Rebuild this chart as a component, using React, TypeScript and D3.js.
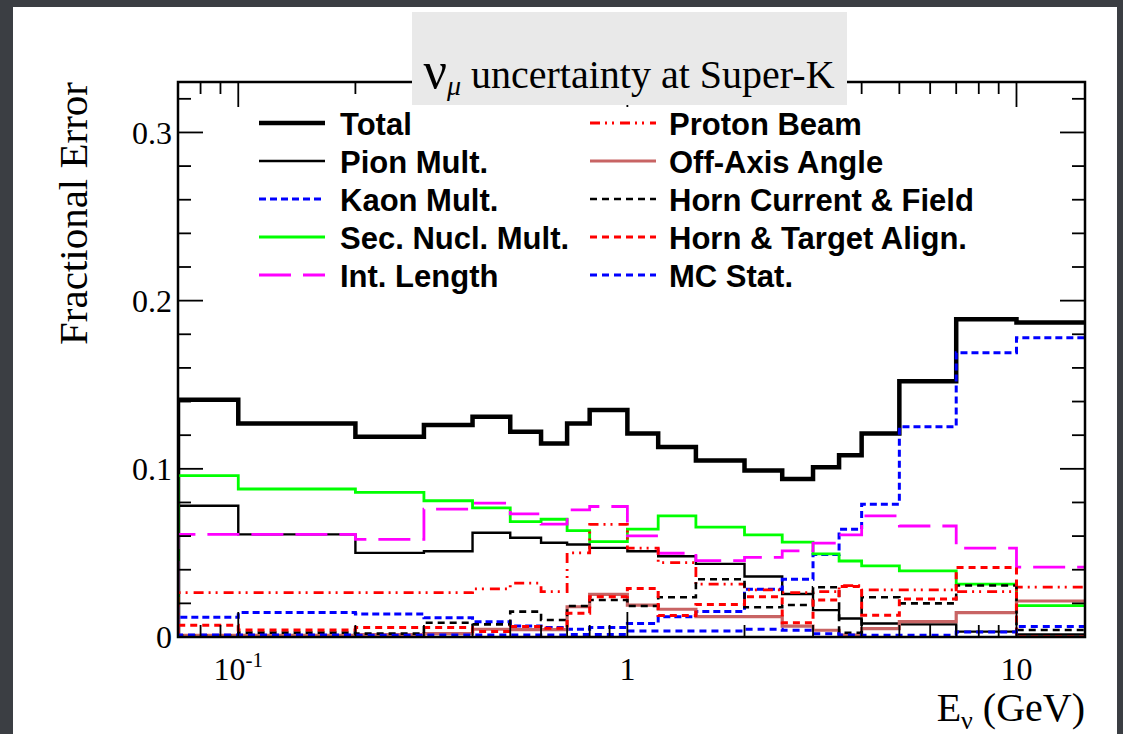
import { useEffect, useRef } from 'react';
import * as d3 from 'd3';

// bin edges in GeV (first and last bins run past the visible axis range)
const binEdges = [0, 0.1, 0.2, 0.3, 0.4, 0.5, 0.6, 0.7, 0.8, 1.0, 1.2, 1.5, 2.0, 2.5, 3.0, 3.5, 4.0, 5.0, 7.0, 10.0, 30.0];

const totalErr = [0.141, 0.127, 0.119, 0.126, 0.131, 0.122, 0.115, 0.127, 0.135, 0.121, 0.113, 0.105, 0.099, 0.094, 0.101, 0.108, 0.121, 0.152, 0.189, 0.187];
const pionMult = [0.078, 0.061, 0.050, 0.051, 0.062, 0.059, 0.056, 0.055, 0.053, 0.051, 0.048, 0.0435, 0.036, 0.0256, 0.016, 0.011, 0.008, 0.0075, 0.0032, 0.0015];
const kaonMult = [0.0117, 0.0145, 0.0137, 0.0115, 0.0091, 0.0065, 0.0056, 0.0046, 0.0056, 0.0081, 0.0121, 0.0151, 0.0284, 0.0343, 0.049, 0.064, 0.079, 0.125, 0.169, 0.178];
const secNuclMult = [0.096, 0.088, 0.086, 0.081, 0.0768, 0.0686, 0.070, 0.0633, 0.0567, 0.0641, 0.072, 0.0653, 0.0607, 0.0564, 0.0494, 0.0452, 0.0423, 0.0393, 0.0314, 0.0187];
const intLength = [0.061, 0.061, 0.058, 0.076, 0.0796, 0.0732, 0.0671, 0.0756, 0.0776, 0.0601, 0.0498, 0.0454, 0.0474, 0.0512, 0.0558, 0.0607, 0.072, 0.066, 0.0528, 0.0415];
const protonBeam = [0.0264, 0.0264, 0.0264, 0.0264, 0.0286, 0.032, 0.027, 0.050, 0.067, 0.0528, 0.0442, 0.0314, 0.028, 0.0264, 0.027, 0.0306, 0.028, 0.028, 0.027, 0.0296];
const offAxisAngle = [0.001, 0.001, 0.0015, 0.002, 0.0046, 0.0044, 0.0044, 0.018, 0.0254, 0.019, 0.0165, 0.0121, 0.0121, 0.0065, 0.004, 0.0012, 0.005, 0.0091, 0.0145, 0.0214];
const hornCurrent = [0.001, 0.0026, 0.002, 0.0085, 0.0075, 0.0151, 0.0101, 0.0184, 0.022, 0.0184, 0.0236, 0.0343, 0.0177, 0.019, 0.0296, 0.0025, 0.0236, 0.020, 0.0306, 0.0042];
const hornTarget = [0.007, 0.0042, 0.0056, 0.0056, 0.0032, 0.0062, 0.0052, 0.0141, 0.024, 0.0288, 0.0128, 0.0193, 0.024, 0.0085, 0.022, 0.030, 0.013, 0.0226, 0.0413, 0.0];
const mcStat = [0.0012, 0.0012, 0.001, 0.0012, 0.0012, 0.0012, 0.0012, 0.0015, 0.0015, 0.0035, 0.0035, 0.0035, 0.0046, 0.004, 0.002, 0.0012, 0.001, 0.001, 0.003, 0.0062];

const yTickLabels = ['0', '0.1', '0.2', '0.3'];
const xTickLabels = [
  { value: 0.1, base: '10', sup: '-1' },
  { value: 1, base: '1', sup: '' },
  { value: 10, base: '10', sup: '' },
];

interface Series {
  name: string;
  values: number[];
  color: string;
  width: number;
  dash: string | null;
}

const series: Series[] = [
  { name: 'Total', values: totalErr, color: '#000000', width: 4.5, dash: null },
  { name: 'Pion Mult.', values: pionMult, color: '#000000', width: 2.4, dash: null },
  { name: 'Kaon Mult.', values: kaonMult, color: '#0000ff', width: 3, dash: '7 4' },
  { name: 'Sec. Nucl. Mult.', values: secNuclMult, color: '#00ff00', width: 2.8, dash: null },
  { name: 'Int. Length', values: intLength, color: '#ff00ff', width: 2.8, dash: '32 12' },
  { name: 'Proton Beam', values: protonBeam, color: '#ff0000', width: 2.8, dash: '10 5 2 5 2 6' },
  { name: 'Off-Axis Angle', values: offAxisAngle, color: '#c86464', width: 3.2, dash: null },
  { name: 'Horn Current & Field', values: hornCurrent, color: '#000000', width: 2.6, dash: '7 5' },
  { name: 'Horn & Target Align.', values: hornTarget, color: '#ff0000', width: 3, dash: '7 5' },
  { name: 'MC Stat.', values: mcStat, color: '#0000ff', width: 3, dash: '7 5' },
];

const W = 1123;
const H = 734;
const plotLeft = 178;
const plotRight = 1085;
const plotTop = 82;
const plotBottom = 637;

export default function App() {
  const svgRef = useRef<SVGSVGElement>(null);

  useEffect(() => {
    if (!svgRef.current) return;
    document.body.style.margin = '0';

    const svg = d3.select(svgRef.current);
    svg.selectAll('*').remove();

    const x = d3.scaleLog().domain([0.07, 15]).range([plotLeft, plotRight]).clamp(true);
    const y = d3.scaleLinear().domain([0, 0.33]).range([plotBottom, plotTop]);

    // page background + white panel
    svg.append('rect').attr('width', W).attr('height', H).attr('fill', '#3b3e43');
    svg.append('rect').attr('x', 13).attr('y', 7).attr('width', 1104).attr('height', H - 7).attr('fill', '#ffffff');

    svg.append('defs').append('clipPath').attr('id', 'plot-clip')
      .append('rect')
      .attr('x', plotLeft).attr('y', plotTop)
      .attr('width', plotRight - plotLeft).attr('height', plotBottom - plotTop);

    const g = svg.append('g').attr('clip-path', 'url(#plot-clip)');

    const line = d3.line<[number, number]>()
      .x(d => x(d[0]))
      .y(d => y(d[1]))
      .curve(d3.curveStepAfter);

    series.forEach(s => {
      const n = s.values.length;
      const pts: [number, number][] = [[binEdges[0], 0]];
      s.values.forEach((v, i) => pts.push([binEdges[i], v]));
      pts.push([binEdges[n], s.values[n - 1]]);
      g.append('path')
        .attr('d', line(pts))
        .attr('fill', 'none')
        .attr('stroke', s.color)
        .attr('stroke-width', s.width)
        .attr('stroke-dasharray', s.dash)
        .attr('stroke-linejoin', 'miter');
    });

    // frame
    svg.append('rect')
      .attr('x', plotLeft).attr('y', plotTop)
      .attr('width', plotRight - plotLeft).attr('height', plotBottom - plotTop)
      .attr('fill', 'none').attr('stroke', '#000').attr('stroke-width', 2.5);

    const axes = svg.append('g').attr('stroke', '#000').attr('stroke-width', 1.8);

    // y ticks, both sides
    d3.range(0, 0.331, 0.02).forEach(v => {
      const major = Math.abs(v * 10 - Math.round(v * 10)) < 1e-6;
      const len = major ? 25 : 13;
      axes.append('line').attr('x1', plotLeft).attr('x2', plotLeft + len).attr('y1', y(v)).attr('y2', y(v));
      axes.append('line').attr('x1', plotRight).attr('x2', plotRight - len).attr('y1', y(v)).attr('y2', y(v));
    });

    // x ticks (log), bottom and top
    x.ticks().forEach(v => {
      const lg = Math.log10(v);
      const major = Math.abs(lg - Math.round(lg)) < 1e-6;
      const len = major ? 25 : 12;
      axes.append('line').attr('x1', x(v)).attr('x2', x(v)).attr('y1', plotBottom).attr('y2', plotBottom - len);
      axes.append('line').attr('x1', x(v)).attr('x2', x(v)).attr('y1', plotTop).attr('y2', plotTop + len);
    });

    const serif = "'Liberation Serif', 'Times New Roman', serif";

    // y tick labels
    yTickLabels.forEach((lab, i) => {
      svg.append('text')
        .attr('x', 172).attr('y', y(i * 0.1))
        .attr('dy', '0.35em')
        .attr('text-anchor', 'end')
        .attr('font-family', serif).attr('font-size', 32)
        .text(lab);
    });

    // x tick labels
    xTickLabels.forEach(t => {
      const txt = svg.append('text')
        .attr('x', x(t.value)).attr('y', 680)
        .attr('text-anchor', 'middle')
        .attr('font-family', serif).attr('font-size', 32);
      txt.append('tspan').text(t.base);
      if (t.sup) txt.append('tspan').attr('font-size', 21).attr('dy', -13).text(t.sup);
    });

    // axis titles
    svg.append('text')
      .attr('transform', `translate(87, ${plotTop}) rotate(-90)`)
      .attr('text-anchor', 'end')
      .attr('font-family', serif).attr('font-size', 41)
      .text('Fractional Error');

    const xt = svg.append('text')
      .attr('x', plotRight).attr('y', 721)
      .attr('text-anchor', 'end')
      .attr('font-family', serif).attr('font-size', 40);
    xt.append('tspan').text('E');
    xt.append('tspan').attr('font-size', 26).attr('dy', 8).text('ν');
    xt.append('tspan').attr('dy', -8).text(' (GeV)');

    // title box
    svg.append('rect')
      .attr('x', 412).attr('y', 12).attr('width', 435).attr('height', 93)
      .attr('fill', '#e9e9e9');
    const title = svg.append('text')
      .attr('x', 629).attr('y', 88)
      .attr('text-anchor', 'middle')
      .attr('font-family', serif).attr('font-size', 40);
    title.append('tspan').attr('font-size', 52).text('ν');
    title.append('tspan').attr('font-size', 28).attr('font-style', 'italic').attr('dy', 7).text('μ');
    title.append('tspan').attr('dy', -7).text(' uncertainty at Super-K');

    // legend
    const legend = svg.append('g');
    const cols = [
      { lineX: 259, textX: 340 },
      { lineX: 590, textX: 669 },
    ];
    series.forEach((s, i) => {
      const col = cols[Math.floor(i / 5)];
      const base = 135 + (i % 5) * 38;
      legend.append('line')
        .attr('x1', col.lineX).attr('x2', col.lineX + 66)
        .attr('y1', base - 12).attr('y2', base - 12)
        .attr('stroke', s.color)
        .attr('stroke-width', s.width)
        .attr('stroke-dasharray', s.dash);
      legend.append('text')
        .attr('x', col.textX).attr('y', base)
        .attr('font-family', "'Liberation Sans', Arial, sans-serif")
        .attr('font-weight', 'bold')
        .attr('font-size', 31)
        .text(s.name);
    });
  }, []);

  return (
    <svg
      ref={svgRef}
      width={W}
      height={H}
      style={{ position: 'absolute', left: 0, top: 0, display: 'block' }}
    />
  );
}
